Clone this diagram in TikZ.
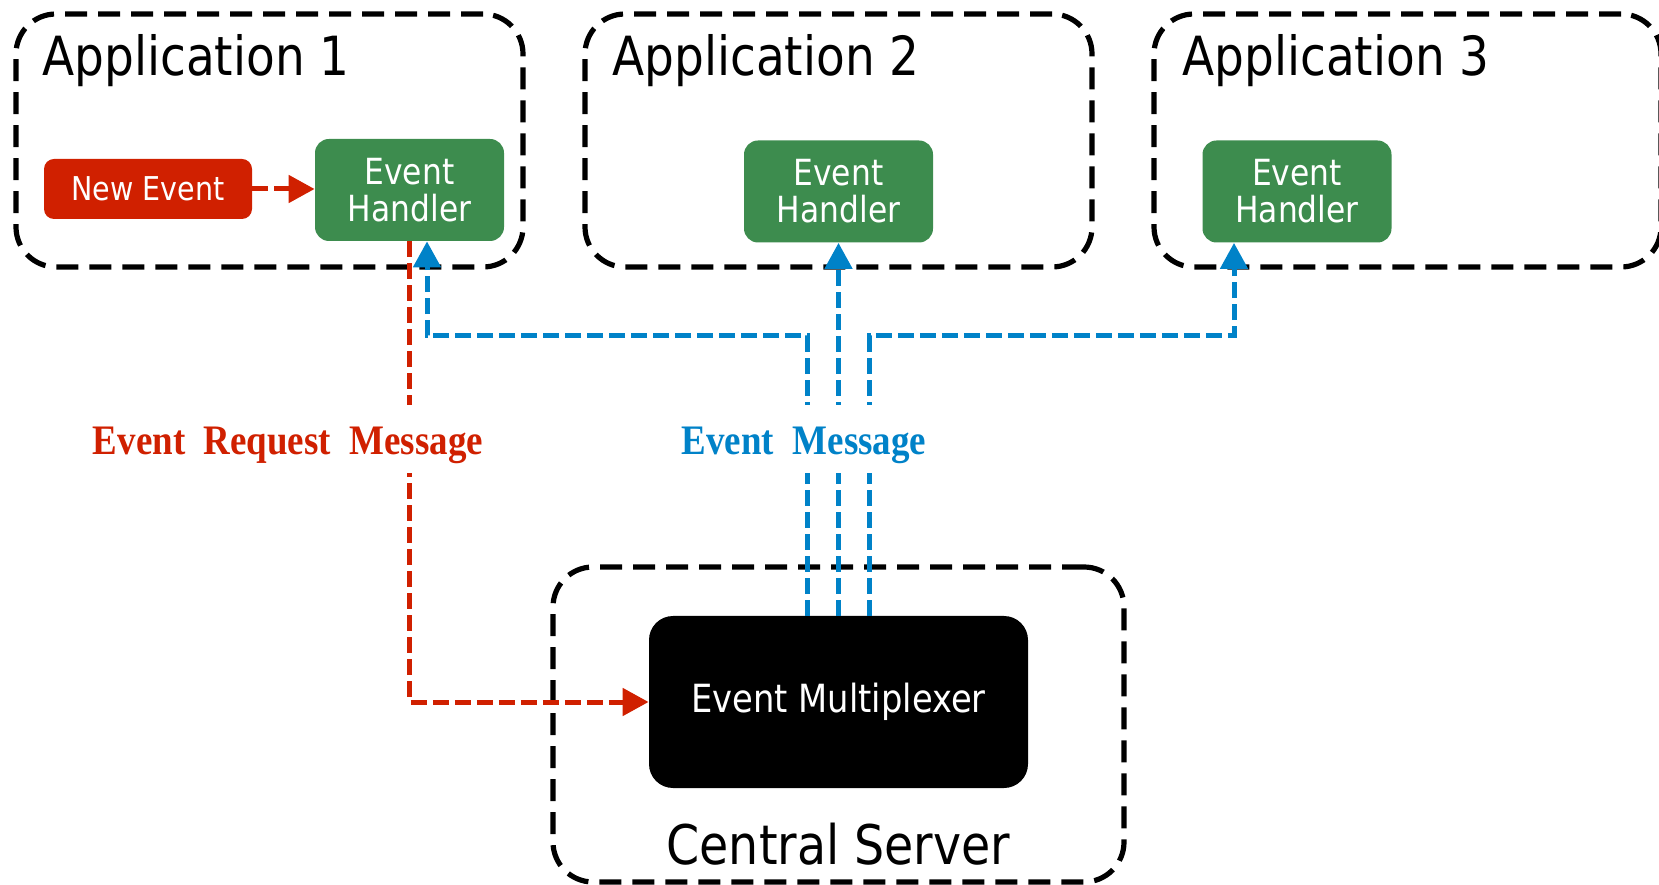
\documentclass[tikz,border=0pt]{standalone}
\usepackage{fontspec}
\setmainfont{DejaVu Sans}[FakeStretch=0.87]
\newfontfamily\labelfont{Liberation Serif}[FakeStretch=0.88]
\usetikzlibrary{arrows.meta,calc,positioning}
\definecolor{EvRed}{HTML}{D02000}
\definecolor{EvGreen}{HTML}{3D8C4E}
\definecolor{EvBlue}{HTML}{0082C8}
\tikzset{group/.style={draw=black,line width=2.6pt,dash pattern=on 11pt off 5.5pt,rounded corners=20pt,minimum width=253.5pt,minimum height=126.5pt,inner sep=0pt},title/.style={font=\fontsize{27}{30}\selectfont,inner sep=0pt},handler/.style={rounded corners=7pt,fill=EvGreen,text=white,minimum width=94.5pt,minimum height=51pt,align=center,inner sep=0pt,font=\fontsize{18}{18.5}\selectfont},source/.style={rounded corners=5pt,fill=EvRed,text=white,minimum width=104pt,minimum height=30pt,inner sep=0pt,font=\fontsize{16.4}{18}\selectfont},mux/.style={rounded corners=12pt,fill=black,text=white,minimum width=189.5pt,minimum height=86pt,inner sep=0pt,font=\fontsize{19.4}{22}\selectfont},msg/.style={fill=white,anchor=base,inner xsep=2pt,inner ysep=8pt,text height=17pt,text depth=1pt,font=\labelfont\bfseries\fontsize{21}{24}\selectfont},redflow/.style={-{Triangle[length=13pt,width=13.5pt]},EvRed,line width=2.5pt,dash pattern=on 8pt off 3pt},blueflow/.style={-{Triangle[length=13pt,width=13.5pt]},EvBlue,line width=2.5pt,dash pattern=on 8pt off 3pt}}
\begin{document}
\begin{tikzpicture}[x=.5pt,y=.5pt]
  \useasboundingbox (0,0) rectangle (1659,884);
  % applications
  \node[group] (app1) at (269.5,743.5){};
  \node[group] (app2) at (838.5,743.5){};
  \node[group] (app3) at (1407.5,743.5){};
  \node[title,anchor=base west] (app1title) at (42,808){Application 1};
  \node[title,anchor=base west] (app2title) at (612,808){Application 2};
  \node[title,anchor=base west] (app3title) at (1182,808){Application 3};
  \node[source] (newev) at (148,695){New Event};
  \node[handler] (eh1) at (409.5,694){Event\\Handler};
  \node[handler] (eh2) at (838.5,692.5){Event\\Handler};
  \node[handler] (eh3) at (1297,692.5){Event\\Handler};
  % server
  \node[group,minimum width=285.5pt,minimum height=157.5pt] (server) at (838.5,159.5){};
  \node[mux] (evmux) at (838.5,182){Event Multiplexer};
  \node[title,font=\fontsize{27.3}{30}\selectfont,anchor=base] (servertitle) at (838.5,20){Central Server};
  % messages
  \coordinate (bus) at (838.5,548);
  \draw[redflow] (newev.east) -- (newev.east -| eh1.west);
  \draw[redflow] (eh1.south) |- (evmux.west);
  \draw[blueflow] ([xshift=-15.5pt]evmux.north) -- ([xshift=-15.5pt]evmux.north |- bus) -| ([xshift=8.75pt]eh1.south);
  \draw[blueflow] (evmux.north) -- (eh2.south);
  \draw[blueflow] ([xshift=15.5pt]evmux.north) -- ([xshift=15.5pt]evmux.north |- bus) -| ([xshift=-31.5pt]eh3.south);
  \node[msg,text=EvRed] (reqmsg) at (288,429){Event~~Request~~Message};
  \node[msg,text=EvBlue] (evmsg) at (804,429){Event~~Message};
\end{tikzpicture}
\end{document}
